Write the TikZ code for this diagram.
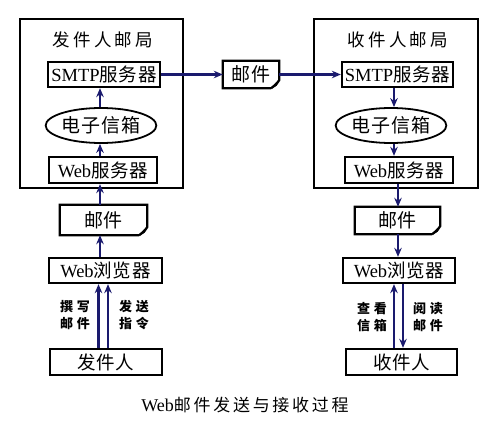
\documentclass[tikz,border=0pt]{standalone}
\usepackage{fontspec}
\setmainfont{Liberation Serif}
\newfontfamily\cjk[LetterSpace=4]{Noto Sans CJK SC}
\newfontfamily\cjkwide[LetterSpace=18]{Noto Sans CJK SC}
\newfontfamily\cjkcap[LetterSpace=16]{Noto Sans CJK SC}
\newfontfamily\cjklbl[LetterSpace=30]{Noto Sans CJK SC}
\usetikzlibrary{arrows.meta,shapes.geometric}
\definecolor{navy}{HTML}{1A1A6E}
\tikzset{
  boxline/.style={draw=black, line width=2.3pt},
  box/.style={boxline, inner sep=0pt, minimum height=25pt,
    font=\fontsize{18.5}{18}\selectfont},
  mailbox/.style={inner sep=0pt, font=\fontsize{19}{19}\selectfont\cjk},
  inbox/.style={draw=black, line width=1.8pt, ellipse, inner sep=0pt,
    font=\fontsize{19}{19}\selectfont\cjk},
  office/.style={boxline, inner sep=0pt},
  officetitle/.style={font=\fontsize{17.5}{17}\selectfont\cjkwide},
  arr/.style={draw=navy, line width=2.2pt, -{Stealth[length=9pt,width=7.5pt]}},
  lbl/.style={align=center, inner sep=0pt,
    font=\fontsize{13}{17}\selectfont\cjklbl\bfseries},
  caption/.style={font=\fontsize{18}{18}\selectfont},
}
\begin{document}
\begin{tikzpicture}[x=1pt,y=-1pt]
\useasboundingbox (0,0) rectangle (491,428);

% sending post office
\node[office, minimum width=163pt, minimum height=169pt] (lpo) at (101.5,103.5) {};
\node[officetitle] (lpot) at (103,40) {发件人邮局};
\node[box, minimum width=112pt] (lsmtp) at (104,74.5) {SMTP{\cjk 服务器}};
\node[inbox, minimum width=108pt, minimum height=35pt] (lbox) at (101,125.5) {电子信箱};
\node[box, minimum width=108pt, minimum height=26pt] (lweb) at (103,170) {Web{\cjk 服务器}};

% receiving post office
\node[office, minimum width=164pt, minimum height=169pt] (rpo) at (396,103.5) {};
\node[officetitle] (rpot) at (398,40) {收件人邮局};
\node[box, minimum width=111pt] (rsmtp) at (397.5,74.5) {SMTP{\cjk 服务器}};
\node[inbox, minimum width=102pt, minimum height=35pt] (rbox) at (391,125.5) {电子信箱};
\node[box, minimum width=108pt, minimum height=26pt] (rweb) at (399,170) {Web{\cjk 服务器}};

% letters
\node[mailbox, minimum width=56pt, minimum height=27pt] (mmail) at (251,74.5) {邮件};
\node[mailbox, minimum width=87pt, minimum height=30pt] (lmail) at (103.5,220) {邮件};
\node[mailbox, minimum width=85pt, minimum height=27pt] (rmail) at (397.5,220.5) {邮件};
\foreach \m in {mmail,lmail,rmail}{
  \draw[boxline, line join=miter]
    ([xshift=-8pt]\m.south east) -- (\m.south west) -- (\m.north west)
    -- (\m.north east) -- ([yshift=8pt]\m.south east)
    .. controls ([xshift=-3pt,yshift=4pt]\m.south east) .. ([xshift=-8pt]\m.south east);
  \fill ([xshift=-8pt]\m.south east)
    .. controls ([xshift=-4pt,yshift=5pt]\m.south east) .. ([yshift=8pt]\m.south east)
    .. controls ([xshift=-2pt,yshift=2pt]\m.south east) .. cycle;
}

% browsers and users
\node[box, minimum width=113pt] (lbrw) at (105.5,270.5) {Web{\cjk 浏览器}};
\node[box, minimum width=112pt, minimum height=26pt] (sender) at (106,362) {{\cjk 发件人}};
\node[box, minimum width=112pt] (rbrw) at (399,270.5) {Web{\cjk 浏览器}};
\node[box, minimum width=111pt, minimum height=26pt] (recv) at (401.5,362) {{\cjk 收件人}};

% arrow columns
\coordinate (lx) at (100,0);
\coordinate (lxa) at (98.5,0);
\coordinate (lxb) at (108,0);
\coordinate (rxa) at (394,0);
\coordinate (rxb) at (398,0);
\coordinate (rxc) at (403,0);

% sending side
\draw[arr] (sender.north -| lxa) -- (lbrw.south -| lxa);
\draw[arr] (sender.north -| lxb) -- (lbrw.south -| lxb);
\draw[arr] (lbrw.north -| lx) -- (lmail.south -| lx);
\draw[arr] (lmail.north -| lx) -- (lweb.south -| lx);
\draw[arr] (lweb.north -| lx) -- (lbox.south -| lx);
\draw[arr] (lbox.north -| lx) -- (lsmtp.south -| lx);
\draw[arr] (lsmtp.east) -- (mmail.west);
\draw[arr] (mmail.east) -- (rsmtp.west);

% receiving side
\draw[arr] (rsmtp.south -| rxa) -- (rbox.north -| rxa);
\draw[arr] (rbox.south -| rxa) -- (rweb.north -| rxa);
\draw[arr] (rweb.south -| rxb) -- (rmail.north -| rxb);
\draw[arr] (rmail.south -| rxb) -- (rbrw.north -| rxb);
\draw[arr] (recv.north -| rxa) -- (rbrw.south -| rxa);
\draw[arr] (rbrw.south -| rxc) -- (recv.north -| rxc);

% arrow labels
\node[lbl] (l1) at (75,315.5) {撰写\\邮件};
\node[lbl] (l2) at (134,315.5) {发送\\指令};
\node[lbl] (l3) at (372,317) {查看\\信箱};
\node[lbl] (l4) at (428,317) {阅读\\邮件};

% caption
\node[caption] (cap) at (245,405) {Web{\fontsize{17}{17}\selectfont\cjkcap 邮件发送与接收过程}};
\end{tikzpicture}
\end{document}
